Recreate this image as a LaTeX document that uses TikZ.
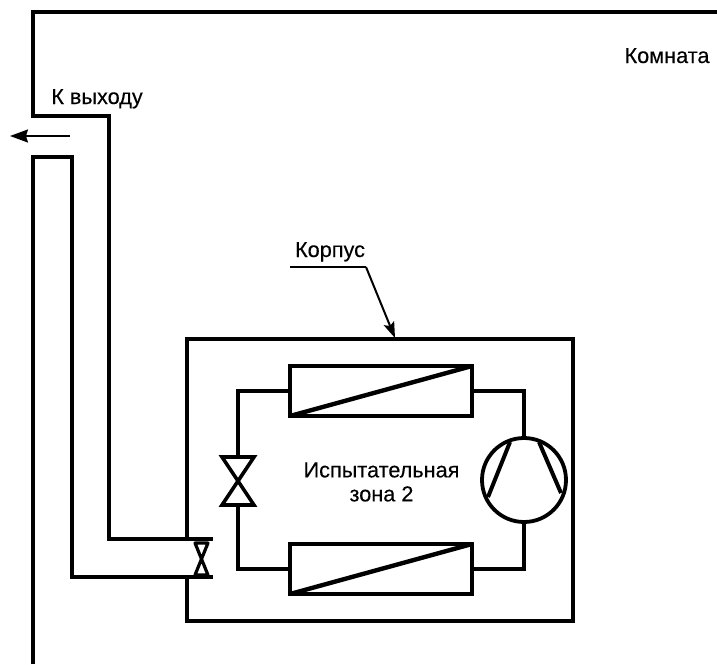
\documentclass[tikz,border=0pt]{standalone}
\usepackage{fontspec}
\setmainfont[UprightFeatures={FakeBold=0.25}]{Liberation Sans}
\usetikzlibrary{arrows.meta}
\tikzset{
  wall/.style={line width=4pt,line join=miter},
  wire/.style={line width=3.6pt,line join=miter},
  lead/.style={line width=2pt},
  label/.style={font=\fontsize{21.7}{24}\selectfont,inner sep=0pt,align=center},
  exch/.style={draw,line width=3.8pt,minimum width=182pt,minimum height=50pt,outer sep=0pt,inner sep=0pt},
}
\begin{document}
\begin{tikzpicture}[x=1pt,y=-1pt]
  \useasboundingbox (0,0) rectangle (717,664);
  % room and duct
  \draw[wall] (717,12) -- (33,12) -- (33,116) -- (109,116) -- (109,539) -- (213,539);
  \draw[wall] (33,664) -- (33,157) -- (72,157) -- (72,577) -- (213,577);
  \draw[-{Stealth[length=18pt,width=13pt,inset=2pt]},lead] (70,136) -- (10,136);
  % housing
  \draw[wire] (187,539) -- (187,339) -- (573,339) -- (573,621) -- (187,621) -- (187,577);
  % exchangers
  \node[exch] (hxtop) at (381,391) {};
  \node[exch] (hxbot) at (381,569) {};
  \draw[line width=4.4pt] (hxtop.south west) -- (hxtop.north east);
  \draw[line width=4.4pt] (hxbot.south west) -- (hxbot.north east);
  % compressor
  \node[draw,circle,line width=3.8pt,minimum size=84pt,inner sep=0pt,outer sep=0pt] (comp) at (524,480) {};
  \draw[line width=4pt] (510,442) -- (488,497);
  \draw[line width=4pt] (539,442) -- (561,493);
  \draw[wire] (hxtop.east) -- (524,391) -- (comp.north);
  \draw[wire] (hxbot.east) -- (524,569) -- (comp.south);
  % expansion valve
  \coordinate (valve) at (238,481);
  \draw[wire] (222,457) -- (254,457) -- (222,505) -- (254,505) -- cycle;
  \draw[wire] (hxtop.west) -- (238,391) -- (238,457);
  \draw[wire] (hxbot.west) -- (238,569) -- (238,505);
  % duct damper
  \draw[line width=3.2pt,line join=round] (195,543) -- (208,543) -- (195,575) -- (208,575) -- cycle;
  % leader
  \coordinate (leadA) at (290,267);
  \coordinate (leadB) at (366,267);
  \coordinate (leadC) at (395,338);
  \draw[lead] (leadA) -- (leadB);
  \draw[lead,-{Stealth[length=16pt,width=11pt,inset=3pt]}] (leadB) -- (leadC);
  % labels
  \node[label,anchor=base] (room) at (667,63) {Комната};
  \node[label,anchor=base] (exit) at (97,104) {К выходу};
  \node[label,anchor=base] (body) at (330,257) {Корпус};
  \node[label] (zone) at (381.5,482) {Испытательная\\зона 2};
\end{tikzpicture}
\end{document}
